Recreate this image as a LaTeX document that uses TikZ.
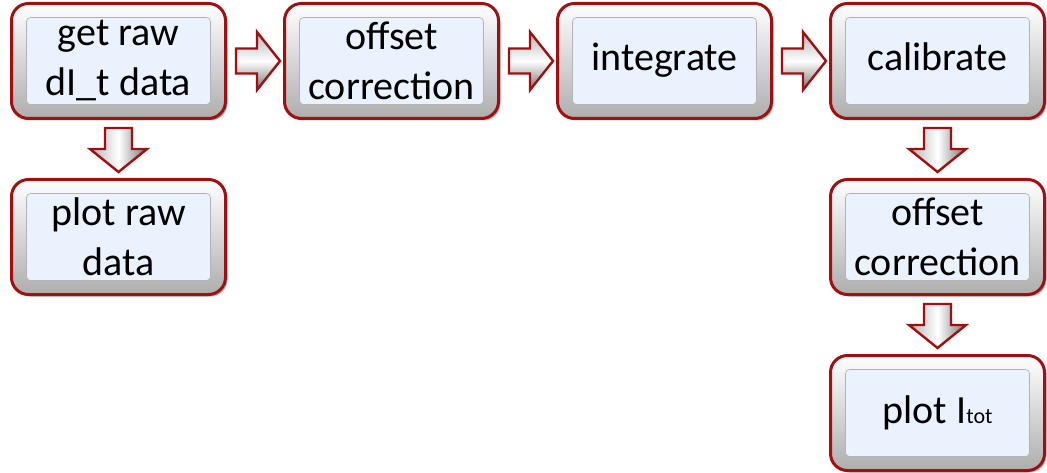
\documentclass[tikz,border=0pt]{standalone}
\usepackage{fontspec}
\setmainfont{Carlito}
\usetikzlibrary{positioning,calc,shadows}

\definecolor{boxred}{HTML}{A01010}
\definecolor{paneblue}{HTML}{E9F2FD}

% block arrows between two stages
\newcommand{\hflow}[2]{%
  \draw[hflow] let \p1=($(#1.east)+(9pt,0)$), \p2=($(#2.west)+(-3pt,0)$) in
    (\x1,\y1+12.5pt) -- (\x2-23pt,\y1+12.5pt) -- (\x2-23pt,\y1+29pt) -- (\x2,\y1)
    -- (\x2-23pt,\y1-29pt) -- (\x2-23pt,\y1-12.5pt) -- (\x1,\y1-12.5pt) -- cycle;}
\newcommand{\vflow}[2]{%
  \draw[vflow] let \p1=($(#1.south)+(0,-8pt)$), \p2=($(#2.north)+(0,6pt)$) in
    (\x1-13.5pt,\y1) -- (\x1-13.5pt,\y2+23pt) -- (\x1-28.5pt,\y2+23pt) -- (\x1,\y2)
    -- (\x1+28.5pt,\y2+23pt) -- (\x1+13.5pt,\y2+23pt) -- (\x1+13.5pt,\y1) -- cycle;}

\begin{document}
\begin{tikzpicture}[semithick, node distance=58pt and 56pt, font=\fontsize{40}{50}\selectfont]
  \tikzstyle{stage}=[draw=boxred, line width=3pt, rounded corners=17pt,
    minimum width=214pt, minimum height=115pt, align=center,
    top color=white, middle color=white, bottom color=black!32,
    drop shadow={shadow xshift=2pt, shadow yshift=-2pt, opacity=0.6},
    path picture={\draw[black!30, line width=0.6pt, fill=paneblue, rounded corners=4pt]
      ([shift={(15pt,-14pt)}]path picture bounding box.north west) rectangle
      ([shift={(-15pt,14pt)}]path picture bounding box.south east);}]
  \tikzstyle{hflow}=[draw=boxred, line width=2.4pt, top color=black!30, bottom color=black!55, middle color=white]
  \tikzstyle{vflow}=[draw=boxred, line width=2.4pt, left color=black!30, right color=black!55, middle color=white]

  \useasboundingbox (0,0) rectangle (1047pt,-473pt);

  \node[stage] (raw) at (118.5pt,-61pt) {get raw\\dI\_t data};
  \node[stage] (off) [right=of raw] {offset\\correction};
  \node[stage] (int) [right=of off] {\strut integrate};
  \node[stage] (cal) [right=of int] {\strut calibrate};
  \node[stage] (plotraw) [below=of raw] {plot raw\\data};
  \node[stage] (off2) [below=of cal] {offset\\correction};
  \node[stage] (plotI) [below=of off2] {\strut plot I{\fontsize{22}{22}\selectfont tot}};

  \hflow{raw}{off}
  \hflow{off}{int}
  \hflow{int}{cal}
  \vflow{raw}{plotraw}
  \vflow{cal}{off2}
  \vflow{off2}{plotI}
\end{tikzpicture}
\end{document}
